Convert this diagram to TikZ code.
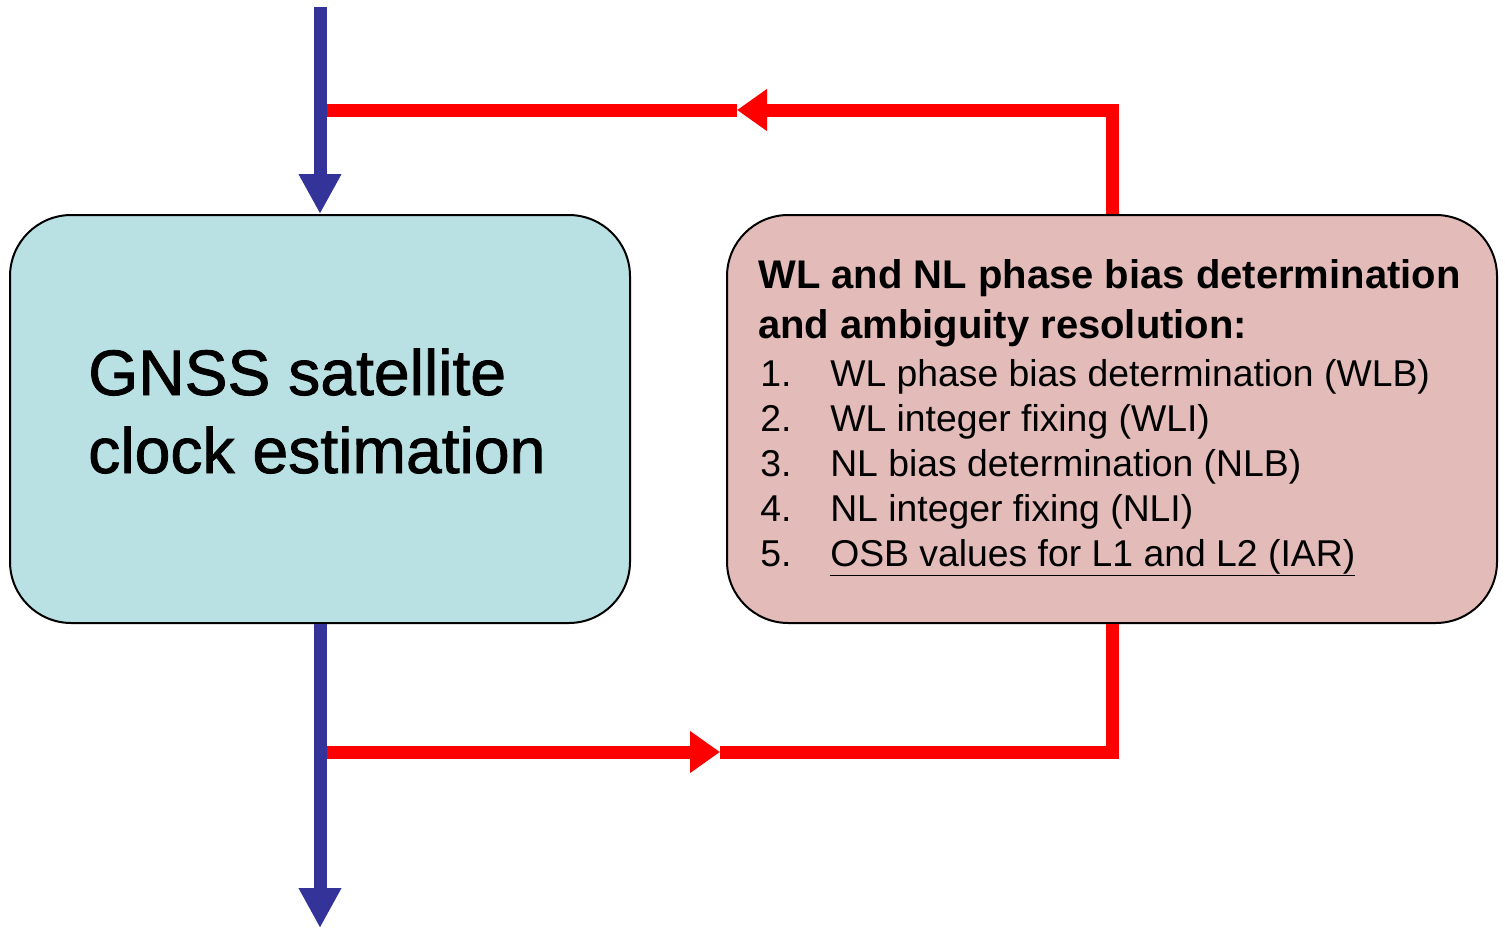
\documentclass[tikz,border=0pt]{standalone}
\usepackage{fontspec}
\setmainfont{Liberation Sans}
\newfontfamily\heavyface[FakeBold=1.3]{Liberation Sans}
\usetikzlibrary{arrows.meta}
\definecolor{flowblue}{RGB}{51,51,153}
\definecolor{flowred}{RGB}{255,0,0}
\definecolor{boxcyan}{RGB}{185,224,227}
\definecolor{boxrose}{RGB}{227,187,185}
\begin{document}
\begin{tikzpicture}[x=0.75pt,y=-0.75pt,
  procbox/.style={draw=black, line width=1.5pt, rounded corners=46pt, inner sep=0pt},
  blueflow/.style={draw=flowblue, line width=9.75pt, -{Triangle[length=30pt,width=30pt]}},
  redflow/.style={draw=flowred, line width=9.75pt},
  redhead/.style={redflow, -{Triangle[length=22.5pt,width=30pt]}}]
\useasboundingbox (0,0) rectangle (1505,928);

\node[procbox, fill=boxcyan, minimum width=465pt, minimum height=306pt] (clk) at (320,419) {};
\node[anchor=base west, align=left, inner sep=0pt,
      font=\fontsize{48.2}{58.5}\heavyface] (clktext) at (88,473) {GNSS satellite\\clock estimation};
\node[procbox, fill=boxrose, minimum width=577.5pt, minimum height=306pt] (ar) at (1112,419) {};
\node[anchor=base west, align=left, inner sep=0pt,
      font=\fontsize{30}{37.5}\selectfont\bfseries] (arhead) at (758,338)
      {WL and NL phase bias determination\\and ambiguity resolution:};
\node[anchor=base west, inner sep=0pt, font=\fontsize{28}{33.75}\selectfont] (arlist) at (760,386)
  {\begin{tabular}[t]{@{}p{52.5pt}@{}l@{}}
   1. & WL phase bias determination (WLB)\\
   2. & WL integer fixing (WLI)\\
   3. & NL bias determination (NLB)\\
   4. & NL integer fixing (NLI)\\
   5. & \underline{OSB values for L1 and L2 (IAR)}
   \end{tabular}};

\coordinate (src) at (320,7);
\coordinate (sink) at (320,928);
\coordinate (jin) at (320,110);
\coordinate (jout) at (320,752);
\coordinate (headin) at (737,110);
\coordinate (headout) at (720,752);

\draw[redhead] (ar.north) |- (headin);
\draw[redflow] (headin) -- (jin);
\draw[redhead] (jout) -- (headout);
\draw[redflow] (headout) -| (ar.south);

\draw[blueflow] (src) -- (clk.north);
\draw[blueflow] (clk.south) -- (sink);
\end{tikzpicture}
\end{document}
